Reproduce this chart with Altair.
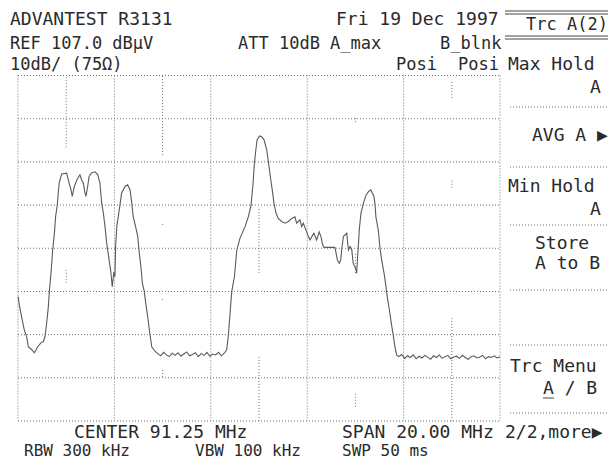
import altair as alt
import pandas as pd

# ---- data ----
freq_mhz = [
    81.26, 81.29, 81.40, 81.51, 81.61, 81.68, 81.82, 81.93, 82.07, 82.20,
    82.30, 82.37, 82.44, 82.51, 82.55, 82.62, 82.69, 82.76, 82.81, 82.88,
    82.92, 82.96, 83.06, 83.27, 83.34, 83.45, 83.50, 83.59, 83.69, 83.82,
    83.89, 83.96, 84.03, 84.07, 84.14, 84.20, 84.31, 84.45, 84.56, 84.65,
    84.72, 84.79, 84.86, 84.93, 84.97, 85.03, 85.10, 85.14, 85.16, 85.23,
    85.27, 85.29, 85.30, 85.35, 85.41, 85.48, 85.55, 85.69, 85.80, 85.90,
    85.97, 86.03, 86.13, 86.22, 86.27, 86.35, 86.41, 86.49, 86.55, 86.63,
    86.73, 86.80, 86.94,
    87.05, 87.17, 87.29, 87.41, 87.53, 87.65, 87.77, 87.89, 88.01, 88.13,
    88.25, 88.37, 88.49, 88.61, 88.73, 88.85, 88.97, 89.09, 89.21, 89.33,
    89.45, 89.57, 89.69, 89.81,
    89.91, 89.98, 90.05, 90.12, 90.23, 90.33, 90.46, 90.67, 90.81, 90.92,
    91.00, 91.06, 91.12, 91.17, 91.27, 91.36, 91.46, 91.57, 91.64, 91.74,
    91.82, 91.87, 91.96, 92.05, 92.19, 92.33, 92.47, 92.61, 92.74, 92.81,
    92.95, 93.02, 93.09, 93.20, 93.30, 93.37, 93.44, 93.53, 93.64, 93.75,
    93.82, 93.89, 93.95, 94.40, 94.45, 94.50, 94.58, 94.64, 94.68, 94.75,
    94.89, 94.96, 95.03, 95.10, 95.16, 95.28, 95.30, 95.37, 95.41, 95.48,
    95.58, 95.69, 95.79, 95.89, 96.02, 96.06, 96.10, 96.20, 96.27, 96.34,
    96.44, 96.52, 96.57, 96.66, 96.76, 96.82, 96.89, 96.96,
    97.05, 97.17, 97.29, 97.41, 97.53, 97.65, 97.77, 97.89, 98.01, 98.13,
    98.25, 98.37, 98.49, 98.61, 98.73, 98.85, 98.97, 99.09, 99.21, 99.33,
    99.45, 99.57, 99.69, 99.81, 99.93, 100.05, 100.17, 100.29, 100.41, 100.53,
    100.65, 100.77, 100.89, 101.01, 101.13, 101.25,
]
level_dbuv = [
    55.8, 54.3, 51.1, 48.1, 46.5, 44.2, 43.5, 42.8, 44.2, 45.1,
    45.4, 46.5, 49.7, 53.5, 57.0, 61.3, 66.6, 70.5, 74.3, 77.0,
    79.8, 82.1, 84.2, 84.4, 82.8, 80.5, 79.0, 81.3, 82.8, 84.0,
    82.8, 82.1, 79.8, 79.0, 81.3, 83.6, 84.5, 84.7, 84.0, 82.1,
    77.5, 75.2, 72.0, 68.2, 66.6, 64.3, 61.6, 59.3, 58.1, 61.5,
    60.4, 64.8, 67.4, 72.0, 74.3, 77.0, 79.8, 81.3, 81.7, 80.5,
    77.5, 74.3, 72.0, 69.7, 66.6, 62.7, 58.9, 57.0, 54.3, 51.2,
    46.9, 44.2, 43.1,
    42.6, 42.1, 42.9, 42.3, 41.9, 42.7, 42.2, 42.8, 42.0, 42.5,
    43.0, 42.1, 42.4, 42.8, 41.9, 42.6, 42.2, 42.9, 42.0, 42.5,
    42.3, 42.9, 42.1, 42.7,
    43.5, 46.9, 52.0, 57.0, 60.4, 66.6, 69.3, 72.0, 74.3, 77.0,
    81.7, 86.7, 89.8, 92.1, 93.0, 92.8, 92.1, 89.8, 87.0, 82.8,
    79.7, 77.4, 75.1, 73.9, 73.2, 72.8, 73.2, 73.9, 74.3, 72.8,
    73.6, 72.0, 72.8, 71.2, 69.7, 68.9, 69.7, 70.5, 68.9, 70.8,
    69.7, 67.8, 67.2, 67.2, 65.8, 64.3, 63.5, 64.3, 66.6, 69.7,
    70.5, 66.6, 67.4, 66.6, 63.5, 62.0, 61.2, 67.4, 71.2, 75.1,
    77.4, 79.3, 80.1, 80.5, 79.0, 77.4, 74.3, 71.2, 67.0, 64.3,
    61.2, 58.1, 55.8, 52.7, 48.9, 46.9, 44.2, 42.3,
    41.9, 42.4, 41.5, 42.1, 41.7, 42.3, 41.4, 42.0, 41.6, 42.2,
    41.8, 41.3, 42.1, 41.7, 42.3, 41.5, 41.9, 42.2, 41.4, 41.8,
    42.0, 41.5, 42.2, 41.7, 41.3, 41.9, 42.1, 41.6, 41.8, 42.2,
    41.4, 41.9, 41.7, 42.1, 41.6, 41.9,
]

grid_db = [27, 37, 47, 57, 67, 77, 87, 97, 107]
grid_mhz = [81.25, 85.25, 89.25, 93.25, 97.25, 101.25]
# partial half-division dotted marks (freq, from dB, to dB)
mark_mhz = [83.25, 83.25, 87.25, 87.25, 87.25, 87.25, 91.25, 91.25,
            95.25, 95.25, 95.25, 99.25, 99.25, 99.25]
mark_lo = [90.4, 59.0, 88.6, 72.4, 55.0, 37.2, 61.3, 27.0,
           96.2, 61.3, 30.3, 101.8, 81.0, 27.0]
mark_hi = [107.0, 62.0, 107.0, 73.1, 55.7, 38.8, 76.6, 41.8,
           97.2, 65.9, 33.5, 106.0, 82.8, 50.8]

# ---- layout ----
OFF = 8
xs = alt.Scale(domain=[81.25, 101.25], range=[18 - OFF, 500 - OFF])
ys = alt.Scale(domain=[27, 107], range=[421 - OFF, 75.5 - OFF])
FONT = "DejaVu Sans Mono"
INK = "#2a2a2a"
GRID = "#707070"

trace_df = pd.DataFrame({"f": freq_mhz, "lvl": level_dbuv})
hgrid_df = pd.DataFrame({"db": grid_db})
vgrid_df = pd.DataFrame({"f": grid_mhz})
mark_df = pd.DataFrame({"f": mark_mhz, "lo": mark_lo, "hi": mark_hi})

layers = []
layers.append(
    alt.Chart(hgrid_df).mark_rule(color=GRID, strokeDash=[1, 2], strokeWidth=1).encode(
        y=alt.Y("db:Q", scale=ys, axis=None),
        x=alt.value(18 - OFF), x2=alt.value(500 - OFF)))
layers.append(
    alt.Chart(vgrid_df).mark_rule(color=GRID, strokeDash=[1, 2], strokeWidth=1).encode(
        x=alt.X("f:Q", scale=xs, axis=None),
        y=alt.value(75.5 - OFF), y2=alt.value(421 - OFF)))
layers.append(
    alt.Chart(mark_df).mark_rule(color=GRID, strokeDash=[1, 2], strokeWidth=1).encode(
        x=alt.X("f:Q", scale=xs, axis=None),
        y=alt.Y("lo:Q", scale=ys, axis=None), y2="hi:Q"))
layers.append(
    alt.Chart(trace_df).mark_line(color="#5a5a5a", strokeWidth=1.1).encode(
        x=alt.X("f:Q", scale=xs, axis=None),
        y=alt.Y("lvl:Q", scale=ys, axis=None),
        order="f:Q"))

one = alt.Data(values=[{}])

def rule(x1, x2, y, dash=None, color=INK, w=1):
    kw = dict(color=color, strokeWidth=w)
    if dash:
        kw["strokeDash"] = dash
    return alt.Chart(one).mark_rule(**kw).encode(
        x=alt.value(x1 - OFF), x2=alt.value(x2 - OFF), y=alt.value(y - OFF))

def txt(s, x, y, size):
    return alt.Chart(one).mark_text(
        text=s, font=FONT, fontSize=size, color=INK, align="left",
        baseline="middle").encode(x=alt.value(x - OFF), y=alt.value(y - OFF))

# header double lines
for yy in (11, 14, 36, 39):
    layers.append(rule(505, 616, yy, color="#444"))
# softkey separators
for yy in (107, 167, 225, 290, 345, 413):
    layers.append(rule(510, 616, yy, dash=[1, 2], color=GRID))
# underline of A in "A / B"
layers.append(rule(543, 554, 398, color="#444"))

BIG = 18
MID = 17
SMALL = 16
texts = [
    ("ADVANTEST R3131", 10, 20, BIG),
    ("Fri 19 Dec 1997", 336, 20, BIG),
    ("Trc A(2)", 526, 25, MID),
    ("REF 107.0 dB\u03bcV", 10, 44, MID),
    ("ATT 10dB", 238, 44, MID),
    ("A_max", 330, 44, MID),
    ("B_blnk", 440, 44, MID),
    ("10dB/ (75\u03a9)", 10, 65, MID),
    ("Posi", 396, 65, MID),
    ("Posi", 458, 65, MID),
    ("Max Hold", 508, 65, BIG),
    ("A", 590, 88, BIG),
    ("AVG A \u25b6", 532, 136, BIG),
    ("Min Hold", 508, 187, BIG),
    ("A", 590, 210, BIG),
    ("Store", 535, 244, BIG),
    ("A to B", 535, 264, BIG),
    ("Trc Menu", 510, 367, BIG),
    ("A / B", 543, 389, BIG),
    ("CENTER 91.25 MHz", 74, 433, BIG),
    ("SPAN 20.00 MHz", 342, 433, BIG),
    ("2/2,more\u25b6", 505, 433, BIG),
    ("RBW 300 kHz", 24, 451, SMALL),
    ("VBW 100 kHz", 195, 451, SMALL),
    ("SWP 50 ms", 342, 451, SMALL),
]
for s, x, y, sz in texts:
    layers.append(txt(s, x, y, sz))

chart = alt.layer(*layers).properties(
    width=600, height=452, padding=0,
    autosize=alt.AutoSizeParams(type="none"),
    background="white",
).configure_view(stroke=None)

chart.save("out.html", embed_options={"renderer": "svg", "actions": False})
